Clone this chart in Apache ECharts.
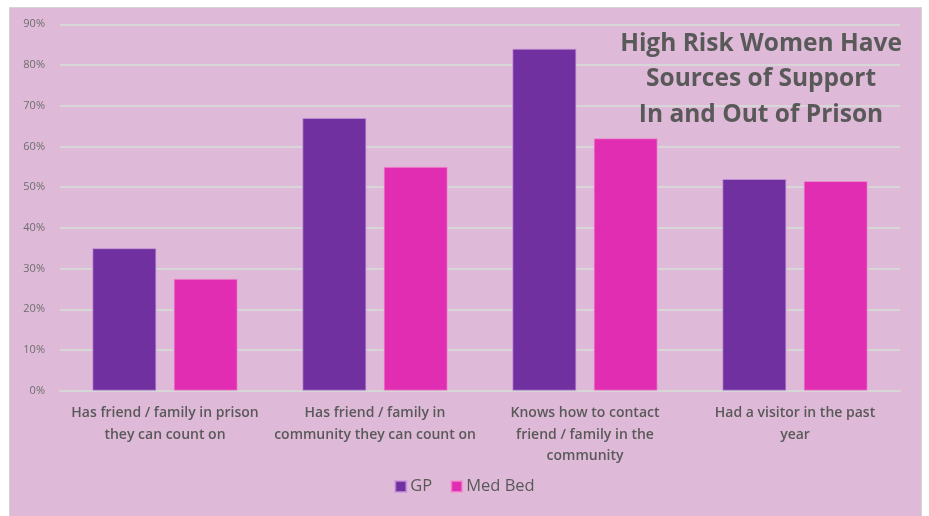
<!DOCTYPE html>
<html>
<head>
<meta charset="utf-8">
<script src="https://cdn.jsdelivr.net/npm/echarts@6/dist/echarts.min.js"></script>
<style>
  html, body { margin: 0; padding: 0; background: #ffffff; }
  #chart { width: 929px; height: 516px; }
</style>
</head>
<body>
<div id="chart"></div>
<script>
const categories = [
  'Has friend / family in prison\nthey can count on',
  'Has friend / family in\ncommunity they can count on',
  'Knows how to contact\nfriend / family in the\ncommunity',
  'Had a visitor in the past\nyear'
];
const gpValues = [35, 67, 84, 52];
const medBedValues = [27.5, 55, 62, 51.5];
const titleLines = 'High Risk Women Have\nSources of Support\nIn and Out of Prison';

const chart = echarts.init(document.getElementById('chart'), null, { renderer: 'canvas' });
const font = '"Open Sans", "Noto Sans", sans-serif';
chart.setOption({
  animation: false,
  textStyle: { fontFamily: font },
  graphic: [{
    type: 'rect', z: -10, silent: true,
    shape: { x: 9.5, y: 7.5, width: 912, height: 520 },
    style: { fill: '#dfbad8', stroke: '#d4d4d4', lineWidth: 1 }
  }],
  title: {
    text: titleLines,
    left: 756, top: 21, textAlign: 'center',
    textStyle: { fontFamily: font, fontSize: 24.5, fontWeight: 'bold', color: '#595959', lineHeight: 35.5 }
  },
  legend: {
    data: ['GP', 'Med Bed'],
    bottom: 16, left: 'center',
    icon: 'rect', itemWidth: 11, itemHeight: 11, itemGap: 18,
    textStyle: { fontFamily: font, fontSize: 16.5, color: '#595959', padding: [0, 0, 0, -1] }
  },
  grid: { left: 60, right: 29, top: 24.3, bottom: 125.3, containLabel: false },
  xAxis: {
    type: 'category',
    data: categories,
    axisLine: { show: true, lineStyle: { color: '#d6d6d6', width: 2 } },
    axisTick: { show: false },
    axisLabel: { interval: 0, margin: 12, fontFamily: font, fontSize: 14, fontWeight: 600, color: '#595959', lineHeight: 21.5 }
  },
  yAxis: {
    type: 'value', min: 0, max: 90, interval: 10,
    axisLine: { show: false }, axisTick: { show: false },
    axisLabel: { formatter: '{value}%', fontFamily: font, fontSize: 11, color: '#6e6e6e', margin: 15 },
    splitLine: { lineStyle: { color: '#d6d6d6', width: 2 } }
  },
  series: [
    { name: 'GP', type: 'bar', data: gpValues, barWidth: 64, barGap: '27%',
      itemStyle: { color: '#7030a0', borderColor: 'rgba(200,150,220,0.7)', borderWidth: 1 } },
    { name: 'Med Bed', type: 'bar', data: medBedValues, barWidth: 64,
      itemStyle: { color: '#e02db1', borderColor: 'rgba(240,150,210,0.7)', borderWidth: 1 } }
  ]
});
</script>
</body>
</html>
